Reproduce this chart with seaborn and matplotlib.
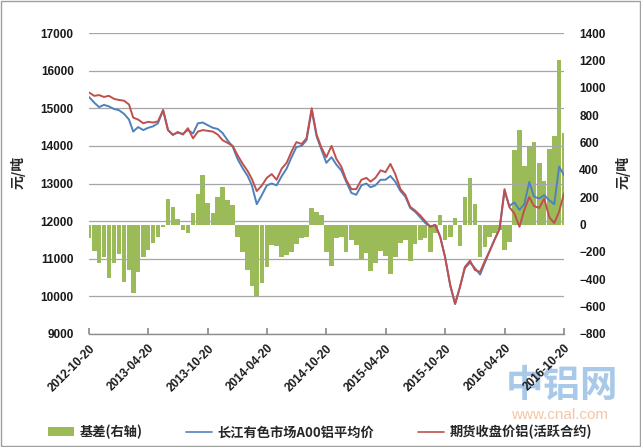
import numpy as np
import pandas as pd
import matplotlib
matplotlib.use("Agg")
import matplotlib.pyplot as plt
import matplotlib.dates as mdates
from matplotlib.patches import Rectangle, Patch
from matplotlib.lines import Line2D
import seaborn as sns

sns.set_theme(style="white")
plt.rcParams['font.family'] = ['Noto Sans CJK SC', 'DejaVu Sans']

# ---- data (semi-monthly readings: 5th and 20th of each month) ----
start = pd.Timestamp("2012-10-20")
months = pd.date_range("2012-11-01", "2016-10-01", freq="MS")
dates = [start]
for m in months:
    dates += [m + pd.Timedelta(days=4), m + pd.Timedelta(days=19)]

spot_price = [15300, 15150, 15030, 15090, 15050, 14980, 14950, 14850, 14700, 14380,
              14500, 14420, 14480, 14520, 14600, 14950, 14420, 14300, 14350, 14320,
              14420, 14330, 14600, 14620, 14550, 14480, 14450, 14340, 14150, 13980,
              13650, 13400, 13200, 12950, 12450, 12700, 12950, 13000, 12950, 13200,
              13400, 13700, 13970, 14000, 14150, 14950, 14250, 13900, 13550, 13700,
              13500, 13350, 13050, 12750, 12700, 12950, 13000, 12900, 12950, 13100,
              13100, 13200, 13050, 12800, 12650, 12350, 12250, 12100, 11950, 11850,
              11900, 11600, 11050, 10300, 9800, 10250, 10750, 10900, 10750, 10580,
              10900, 11200, 11500, 11800, 12800, 12400, 12500, 12300, 12450, 13040,
              12650, 12600, 12690, 12550, 12450, 13450, 13220]

futures_price = [15420, 15330, 15350, 15300, 15330, 15250, 15220, 15200, 15100, 14750,
                 14700, 14600, 14640, 14620, 14650, 14950, 14420, 14290, 14370, 14300,
                 14470, 14200, 14380, 14420, 14400, 14380, 14300, 14150, 14080, 14000,
                 13750, 13520, 13330, 13120, 12800, 12950, 13150, 13250, 13100, 13400,
                 13550, 13850, 14100, 14050, 14200, 15000, 14300, 13950, 13700, 14000,
                 13650, 13450, 13100, 12850, 12850, 13100, 13150, 13050, 13150, 13350,
                 13300, 13520, 13250, 12850, 12700, 12380, 12280, 12150, 12000, 11850,
                 11900, 11580, 11050, 10300, 9800, 10250, 10780, 10950, 10700, 10650,
                 10950, 11200, 11500, 11800, 12850, 12370, 12210, 11850, 12300, 12640,
                 12400, 12350, 12600, 12100, 11950, 12250, 12740]

basis = [-100, -190, -280, -240, -390, -280, -215, -420, -330, -500,
         -350, -240, -185, -135, -90, -20, 190, 130, 40, -40,
         -60, 85, 220, 360, 160, 85, 200, 275, 180, 140,
         -90, -200, -330, -450, -530, -430, -310, -150, -160, -235,
         -220, -200, -140, -95, -90, 120, 90, 70, -200, -300,
         -100, -90, -200, -115, -150, -255, -210, -340, -280, -190,
         -230, -360, -240, -135, -115, -270, -140, -115, -95, -200,
         -60, 70, -110, -90, 50, -160, 200, 340, 150, -235,
         -165, -90, -60, -40, -185, -130, 545, 690, 430, 570,
         600, 450, 320, 550, 650, 1200, 670]

tick_dates = ["2012-10-20", "2013-04-20", "2013-10-20", "2014-04-20", "2014-10-20",
              "2015-04-20", "2015-10-20", "2016-04-20", "2016-10-20"]
left_ticks = [9000, 10000, 11000, 12000, 13000, 14000, 15000, 16000, 17000]
right_ticks = [-800, -600, -400, -200, 0, 200, 400, 600, 800, 1000, 1200, 1400]

label_basis = "基差(右轴)"
label_spot = "长江有色市场A00铝平均价"
label_fut = "期货收盘价铝(活跃合约)"

df = pd.DataFrame({"date": dates, "spot": spot_price, "fut": futures_price, "basis": basis})

GREEN = "#9BBB59"
BLUE = "#4F81BD"
RED = "#C0504D"
GRID = "#A6A6A6"
NUMFONT = ["Liberation Sans", "DejaVu Sans"]

fig = plt.figure(figsize=(6.41, 4.47), dpi=100)
fig.subplots_adjust(left=89/641, right=564/641, top=1-33/447, bottom=1-334/447)
ax = fig.add_subplot(111)
ax2 = ax.twinx()
ax.set_zorder(ax2.get_zorder() + 1)
ax.patch.set_visible(False)

# bars on secondary axis
ax2.bar(df["date"], df["basis"], width=14.2, color=GREEN, edgecolor="none", align="center")
ax2.set_ylim(-800, 1400)
ax2.set_yticks(right_ticks)

# lines on primary axis
sns.lineplot(data=df, x="date", y="spot", ax=ax, color=BLUE, lw=1.4)
sns.lineplot(data=df, x="date", y="fut", ax=ax, color=RED, lw=1.4)
ax.set_ylim(9000, 17000)
ax.set_yticks(left_ticks)
ax.set_xlim(pd.Timestamp(tick_dates[0]), pd.Timestamp(tick_dates[-1]))
ax.set_xticks([pd.Timestamp(d) for d in tick_dates])
ax.set_xticklabels(tick_dates, rotation=45, ha="right", rotation_mode="anchor",
                   fontsize=8.5, family=NUMFONT)
ax.set_xlabel("")
ax.set_ylabel("")
ax2.set_ylabel("")

for a in (ax, ax2):
    for s in ("top", "left", "right", "bottom"):
        a.spines[s].set_visible(False)
ax.spines["bottom"].set_visible(True)
ax.spines["bottom"].set_color("#8C8C8C")
ax.spines["bottom"].set_linewidth(1.0)

ax.yaxis.grid(True, color=GRID, lw=0.9)
ax.xaxis.grid(False)
ax2.grid(False)
ax.set_axisbelow(True)

ax.tick_params(axis="y", length=0, pad=11, labelsize=8.5)
ax.tick_params(axis="x", direction="in", length=4, color="#8C8C8C", pad=6, bottom=True)
ax2.tick_params(axis="y", length=0, pad=11, labelsize=8.5)
for lab in ax.get_yticklabels() + ax2.get_yticklabels() + ax.get_xticklabels():
    lab.set_family(NUMFONT)
    lab.set_color("#1a1a1a")
    lab.set_fontweight("bold")

# axis unit labels
fig.text(18/641, 1-172/447, "元/吨", rotation=90, ha="center", va="center", fontsize=10,
         fontweight="bold")
fig.text(623/641, 1-172/447, "元/吨", rotation=90, ha="center", va="center", fontsize=10,
         fontweight="bold")

# legend
handles = [Patch(facecolor=GREEN, edgecolor="none"),
           Line2D([0], [0], color=BLUE, lw=1.2),
           Line2D([0], [0], color=RED, lw=1.2)]
leg = fig.legend(handles, [label_basis, label_spot, label_fut], loc="center",
                 bbox_to_anchor=(320/641, 1-432/447), ncol=3, frameon=False,
                 fontsize=9.5, handlelength=2.0, handletextpad=0.4, columnspacing=3.3,
                 prop={"weight": "bold", "size": 9.5})

# watermark
fig.text(562/641, 1-386/447, "中铝网", ha="center", va="center", fontsize=27,
         color="#A9C9E9", fontweight="bold", zorder=-1)
fig.text(560/641, 1-415/447, "www.cnal.com", ha="center", va="center", fontsize=11,
         color="#F5C6A5", family=NUMFONT, zorder=-1)

# outer border
fig.patches.append(Rectangle((1/641, 1/447), 639/641, 445/447, transform=fig.transFigure,
                             fill=False, edgecolor="#A0A0A0", lw=1.0))

fig.savefig("out.png", dpi=100)
